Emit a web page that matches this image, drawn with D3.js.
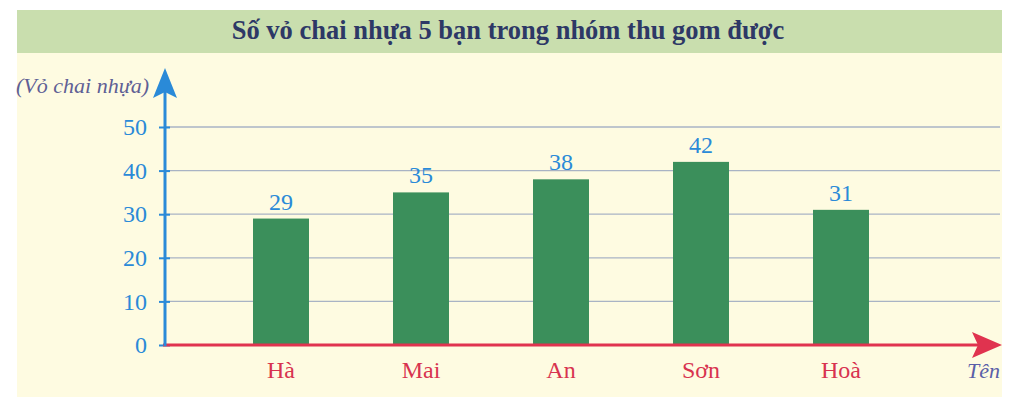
<!DOCTYPE html>
<html><head><meta charset="utf-8">
<script src="https://cdn.jsdelivr.net/npm/d3@7"></script>
<style>body{margin:0;background:#fff}svg{display:block}</style>
</head><body>
<svg id="c" width="1015" height="406"></svg>
<script>
const title = "Số vỏ chai nhựa 5 bạn trong nhóm thu gom được";
const categories = ["Hà", "Mai", "An", "Sơn", "Hoà"];
const values = [29, 35, 38, 42, 31];
const yTicks = [0, 10, 20, 30, 40, 50];
const yLabel = "(Vỏ chai nhựa)";
const xLabel = "Tên";

const svg = d3.select("#c");
const serif = "'Liberation Serif','DejaVu Serif',serif";

// panel
svg.append("rect").attr("x",17).attr("y",10).attr("width",985).attr("height",387).attr("fill","#fefbe1");
svg.append("rect").attr("x",17).attr("y",10).attr("width",985).attr("height",43).attr("fill","#c9deae");
svg.append("text").attr("x",508).attr("y",39).attr("text-anchor","middle")
  .attr("font-family",serif).attr("font-weight","bold").attr("font-size",26.5)
  .attr("fill","#2d3866").text(title);

const x0 = 165, y0 = 345;
const y = d3.scaleLinear().domain([0,50]).range([y0,127]);
const x = d3.scaleBand().domain(categories).range([211,911]).paddingInner(0.6).paddingOuter(0.3);

// gridlines
svg.append("g").selectAll("line").data(yTicks.filter(d=>d>0)).join("line")
  .attr("x1",x0).attr("x2",1000).attr("y1",d=>y(d)).attr("y2",d=>y(d))
  .attr("stroke","#a9b3c4").attr("stroke-width",1.3);

// y axis with d3 axis
const yAxis = svg.append("g").attr("transform",`translate(${x0},0)`)
  .call(d3.axisLeft(y).tickValues(yTicks).tickSize(5).tickPadding(13));
yAxis.select(".domain").remove();
yAxis.selectAll(".tick line").attr("stroke","#2a8ad8").attr("stroke-width",2).attr("x1",-6).attr("x2",5);
yAxis.selectAll(".tick text").attr("font-family",serif).attr("font-size",24).attr("fill","#2a8ad8");

// bars
svg.append("g").selectAll("rect").data(values).join("rect")
  .attr("x",(d,i)=>x(categories[i])).attr("width",x.bandwidth())
  .attr("y",d=>y(d)).attr("height",d=>y0-y(d)).attr("fill","#3b8f5b");

// value labels
svg.append("g").selectAll("text").data(values).join("text")
  .attr("x",(d,i)=>x(categories[i])+x.bandwidth()/2).attr("y",d=>y(d)-9)
  .attr("text-anchor","middle").attr("font-family",serif).attr("font-size",24)
  .attr("fill","#2a8ad8").text(d=>d);

// x axis
svg.append("line").attr("x1",x0-2).attr("x2",980).attr("y1",y0).attr("y2",y0)
  .attr("stroke","#e0334f").attr("stroke-width",3);
svg.append("path").attr("d",`M1002,${y0} L972,${y0-13} L978,${y0} L972,${y0+13} Z`).attr("fill","#e0334f");

// y axis line
svg.append("line").attr("x1",x0).attr("x2",x0).attr("y1",y0+1).attr("y2",90)
  .attr("stroke","#2a8ad8").attr("stroke-width",3);
svg.append("path").attr("d",`M${x0},68 L${x0-12},98 L${x0},92 L${x0+12},98 Z`).attr("fill","#2a8ad8");

// category labels
const xAxis = svg.append("g").attr("transform",`translate(0,${y0})`)
  .call(d3.axisBottom(x).tickSize(0).tickPadding(16));
xAxis.select(".domain").remove();
xAxis.selectAll(".tick text").attr("font-family",serif).attr("font-size",24).attr("fill","#d8334f");

svg.append("text").attr("x",1000).attr("y",378).attr("text-anchor","end")
  .attr("font-family",serif).attr("font-style","italic").attr("font-size",22)
  .attr("fill","#5a5fa8").text(xLabel);
svg.append("text").attr("x",16).attr("y",93)
  .attr("font-family",serif).attr("font-style","italic").attr("font-size",22)
  .attr("fill","#5f5f95").text(yLabel);
</script>
</body></html>
